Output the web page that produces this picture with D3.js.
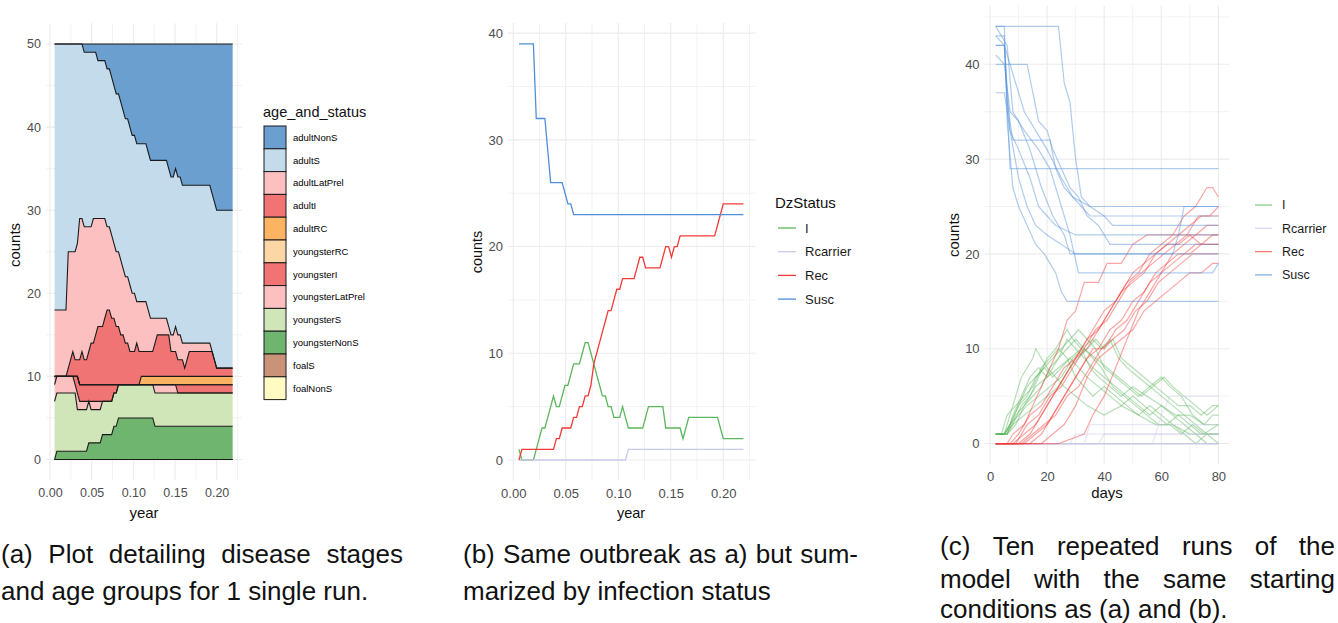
<!DOCTYPE html>
<html>
<head>
<meta charset="utf-8">
<script src="https://cdnjs.cloudflare.com/ajax/libs/d3/7.8.5/d3.min.js"></script>
<style>
  body { margin: 0; background: #fff; }
  text { font-family: "Liberation Sans", Arial, sans-serif; }
  .tick text { fill: #4d4d4d; }
  .caption { font-family: "Liberation Sans", sans-serif; fill: #111; }
</style>
</head>
<body>
<script>
// ---------- (a) one run, counts per day by age group and status ----------
var firstDay = 2;   // days 2..80 of the run

var adultNonS = [0,0,0,0,0,0,0,0,0,0, 0,0,0,1,1,1,1,1,1,2, 2,2,2,3,3,4,5,6,6,7,
  8,9,9,10,11,11,12,12,12,12, 12,13,14,14,14,14,14,14,14,14, 15,16,16,15,16,16,17,17,17,17,
  17,17,17,17,17,17,17,17,17,18, 19,20,20,20,20,20,20,20,20];
var adultS = [32,32,32,32,32,32,25,25,25,25, 24,21,21,21,21,21,21,20,20,19, 19,19,19,19,19,19,19,19,19,19,
  19,19,19,19,19,19,19,19,19,19, 19,19,19,19,19,19,19,19,19,19, 19,19,19,19,19,19,19,19,19,19,
  19,19,19,19,19,19,19,19,19,19, 19,19,19,19,19,19,19,19,19];
var adultLatPrel = [8,8,8,8,8,8,14,13,12,13, 14,17,16,16,16,15,14,15,14,13, 13,13,12,10,10,10,9,9,9,9,
  8,8,8,8,7,7,5,6,6,6, 6,5,4,4,3,2,2,2,2,2, 1,2,2,3,3,3,2,3,2,1,
  1,1,1,1,1,1,1,1,1,0, 0,0,0,0,0,0,0,0,0];
var adultI = [0,0,0,0,0,0,1,2,3,2, 2,3,4,3,3,4,5,5,6,7, 7,7,8,9,9,8,8,7,7,6,
  6,5,5,4,4,4,5,4,3,3, 3,3,3,3,4,5,5,5,5,5, 5,3,3,3,2,2,2,1,2,3,
  3,3,3,3,3,3,3,3,3,3, 2,1,1,1,1,1,1,1,1];
var adultRC = [0,0,0,0,0,0,0,0,0,0, 0,0,0,0,0,0,0,0,0,0, 0,0,0,0,0,0,0,0,0,0,
  0,0,0,0,0,0,0,0,1,1, 1,1,1,1,1,1,1,1,1,1, 1,1,1,1,1,1,1,1,1,1,
  1,1,1,1,1,1,1,1,1,1, 1,1,1,1,1,1,1,1,1];
var youngsterRC = [0,0,0,0,0,0,0,0,0,0, 0,0,0,0,0,0,0,0,0,0, 0,0,0,0,0,0,0,0,0,0,
  0,0,0,0,0,0,0,0,0,0, 0,0,0,0,0,0,0,0,0,0, 0,0,0,0,0,0,0,0,0,0,
  0,0,0,0,0,0,0,0,0,0, 0,0,0,0,0,0,0,0,0];
var youngsterI = [1,0,0,0,0,0,0,0,0,1, 2,2,2,2,2,2,2,2,2,2, 2,2,2,2,2,2,1,1,0,0,
  0,0,0,0,0,0,0,0,0,0, 0,0,0,0,0,0,0,0,0,0, 0,0,0,0,1,1,1,1,1,1,
  1,1,1,1,1,1,1,1,1,1, 1,1,1,1,1,1,1,1,1];
var youngsterLatPrel = [2,2,2,2,2,2,2,2,2,1, 2,1,1,1,1,0,1,1,1,1, 1,0,0,0,0,0,0,0,0,0,
  0,0,0,0,0,0,0,0,0,0, 0,0,0,0,1,1,1,1,1,1, 1,1,1,1,0,0,0,0,0,0,
  0,0,0,0,0,0,0,0,0,0, 0,0,0,0,0,0,0,0,0];
var youngsterS = [7,7,7,7,7,7,7,7,7,7, 5,5,5,5,5,5,4,4,4,4, 4,4,4,4,4,4,4,4,4,4,
  4,4,4,4,4,4,4,4,4,4, 4,4,4,4,4,4,4,4,4,4, 4,4,4,4,4,4,4,4,4,4,
  4,4,4,4,4,4,4,4,4,4, 4,4,4,4,4,4,4,4,4];
var youngsterNonS = [0,1,1,1,1,1,1,1,1,1, 1,1,1,1,1,2,2,2,2,2, 2,3,3,3,3,3,4,4,5,5,
  5,5,5,5,5,5,5,5,5,5, 5,5,5,5,4,4,4,4,4,4, 4,4,4,4,4,4,4,4,4,4,
  4,4,4,4,4,4,4,4,4,4, 4,4,4,4,4,4,4,4,4];
var foalS = [0,0,0,0,0,0,0,0,0,0, 0,0,0,0,0,0,0,0,0,0, 0,0,0,0,0,0,0,0,0,0,
  0,0,0,0,0,0,0,0,0,0, 0,0,0,0,0,0,0,0,0,0, 0,0,0,0,0,0,0,0,0,0,
  0,0,0,0,0,0,0,0,0,0, 0,0,0,0,0,0,0,0,0];
var foalNonS = [0,0,0,0,0,0,0,0,0,0, 0,0,0,0,0,0,0,0,0,0, 0,0,0,0,0,0,0,0,0,0,
  0,0,0,0,0,0,0,0,0,0, 0,0,0,0,0,0,0,0,0,0, 0,0,0,0,0,0,0,0,0,0,
  0,0,0,0,0,0,0,0,0,0, 0,0,0,0,0,0,0,0,0];

// legend order (top of stack first)
var groupNames = ["adultNonS", "adultS", "adultLatPrel", "adultI", "adultRC", "youngsterRC",
  "youngsterI", "youngsterLatPrel", "youngsterS", "youngsterNonS", "foalS", "foalNonS"];
var groupColors = ["#6a9fcf", "#c4dbeb", "#fcc0c0", "#f07473", "#fdb462", "#fdd6a6",
  "#f07473", "#fcc0c0", "#d0e6b9", "#6fb56f", "#c9937a", "#fffbc2"];

// ---------- (c) ten runs, breakpoints [day, count] ----------
var runsI = [
  [[2,1],[5,1],[7,3],[9,5],[11,7],[13,8],[15,9],[16,10],[18,9],[20,8],[23,7],[26,6],[30,5],[34,4],[40,3],[46,4],[52,3],[58,2],[64,2],[70,1],[80,1]],
  [[2,1],[6,1],[8,2],[11,4],[14,5],[17,7],[20,9],[23,10],[25,11],[27,12],[29,11],[32,10],[35,8],[38,7],[42,6],[46,5],[50,6],[55,5],[60,4],[65,3],[70,3],[75,2],[80,2]],
  [[2,1],[5,1],[7,2],[10,4],[13,5],[16,7],[19,8],[22,9],[25,10],[28,11],[31,12],[34,11],[37,10],[40,8],[44,7],[48,6],[52,5],[56,6],[60,5],[64,4],[68,3],[72,2],[76,1],[80,1]],
  [[2,1],[6,1],[9,3],[12,4],[16,6],[20,7],[24,8],[28,9],[32,10],[36,11],[39,10],[42,11],[45,9],[48,8],[52,7],[56,6],[60,7],[63,6],[67,5],[71,3],[75,2],[78,3],[80,3]],
  [[2,1],[4,1],[6,3],[9,4],[12,5],[15,6],[18,8],[21,9],[24,10],[27,9],[30,7],[33,6],[36,5],[40,6],[44,5],[48,4],[52,3],[56,4],[60,3],[64,2],[68,1],[72,0],[76,1],[80,0]],
  [[2,1],[5,1],[8,2],[12,3],[16,4],[20,5],[24,6],[28,8],[31,9],[34,10],[37,11],[40,10],[43,11],[46,9],[50,8],[54,7],[58,6],[62,5],[66,4],[70,4],[74,3],[78,4],[80,4]],
  [[2,1],[6,1],[8,3],[11,5],[14,7],[17,8],[20,7],[24,9],[27,11],[30,10],[33,9],[36,8],[40,7],[44,6],[48,5],[52,4],[56,3],[60,4],[64,3],[68,2],[72,1],[76,0],[80,0]],
  [[2,1],[5,1],[7,2],[10,3],[13,4],[17,5],[21,6],[25,7],[29,9],[33,10],[37,9],[41,8],[45,7],[49,6],[53,5],[57,6],[61,7],[64,6],[68,5],[72,4],[76,3],[80,4]],
  [[2,1],[6,1],[9,2],[12,4],[15,5],[18,6],[21,8],[24,9],[27,10],[30,11],[33,10],[36,9],[39,8],[43,6],[47,5],[51,4],[55,3],[59,2],[63,2],[67,1],[71,2],[75,1],[80,2]],
  [[2,1],[5,1],[7,2],[10,4],[13,6],[16,7],[19,8],[22,7],[25,8],[28,9],[31,8],[34,7],[38,6],[42,5],[46,4],[50,5],[54,4],[58,3],[62,2],[66,3],[70,2],[74,1],[78,1],[80,1]]
];
var runsRcarrier = [
  [[2,0],[80,0]],
  [[2,0],[33,0],[35,2],[80,2]],
  [[2,0],[28,0],[30,1],[80,1]],
  [[2,0],[57,0],[60,3],[63,5],[80,5]],
  [[2,0],[38,0],[40,1],[80,1]],
  [[2,0],[80,0]],
  [[2,0],[80,0]],
  [[2,0],[80,0]],
  [[2,0],[80,0]],
  [[2,0],[80,0]]
];
var runsRec = [
  [[2,0],[6,0],[8,1],[12,2],[15,4],[18,6],[21,8],[24,10],[27,13],[30,14],[33,17],[38,17],[41,19],[46,19],[50,21],[55,22],[80,22]],
  [[2,0],[8,0],[12,1],[16,2],[20,4],[24,6],[28,8],[32,10],[36,12],[40,14],[44,15],[48,17],[52,18],[56,20],[60,21],[64,22],[68,24],[72,25],[76,27],[78,27],[80,26]],
  [[2,0],[10,0],[14,1],[18,3],[22,5],[26,7],[30,9],[34,11],[38,12],[42,14],[46,16],[50,18],[54,19],[58,20],[62,21],[66,22],[70,23],[74,24],[80,24]],
  [[2,0],[12,0],[16,1],[20,2],[24,4],[28,6],[32,8],[36,10],[40,10],[44,12],[48,13],[52,15],[56,17],[60,18],[64,20],[68,21],[72,22],[76,23],[80,23]],
  [[2,0],[7,0],[10,1],[14,3],[18,4],[22,6],[26,8],[30,9],[34,10],[38,12],[42,14],[46,16],[50,17],[54,18],[58,20],[62,21],[66,21],[70,22],[74,21],[80,21]],
  [[2,0],[14,0],[18,1],[22,3],[26,5],[30,7],[34,9],[38,10],[42,12],[46,13],[50,15],[54,16],[58,18],[62,19],[66,20],[70,20],[74,21],[78,22],[80,22]],
  [[2,0],[18,0],[22,1],[26,2],[30,4],[34,7],[38,9],[42,10],[46,11],[50,12],[54,14],[58,15],[62,16],[66,17],[70,18],[74,18],[78,19],[80,19]],
  [[2,0],[9,0],[13,2],[17,3],[21,5],[25,6],[29,8],[33,10],[37,12],[41,13],[45,15],[49,17],[53,18],[57,19],[61,20],[65,21],[69,22],[73,24],[77,24],[80,25]],
  [[2,0],[11,0],[15,1],[19,2],[23,3],[27,5],[31,6],[35,8],[39,10],[43,11],[47,12],[51,14],[55,15],[59,17],[63,18],[67,19],[71,20],[75,20],[80,20]],
  [[2,0],[24,0],[33,1],[36,3],[40,5],[44,8],[48,11],[52,14],[56,16],[60,18],[64,19],[68,20],[72,21],[76,21],[80,21]]
];
var runsSusc = [
  [[2,44],[24,44],[26,38],[28,36],[30,30],[32,26],[35,25],[80,25]],
  [[2,41],[5,40],[13,40],[15,37],[17,34],[20,33],[22,31],[25,29],[28,27],[31,26],[34,24],[38,23],[42,21],[80,21]],
  [[2,42],[5,42],[6,36],[7,29],[80,29]],
  [[2,43],[5,43],[6,36],[8,32],[21,32],[23,29],[26,27],[29,26],[32,25],[35,24],[80,24]],
  [[2,44],[5,44],[6,34],[8,27],[10,25],[13,23],[16,21],[19,20],[21,19],[23,18],[25,16],[27,15],[80,15]],
  [[2,40],[5,40],[7,35],[10,34],[14,31],[18,27],[22,24],[26,22],[28,20],[80,20]],
  [[2,44],[6,42],[8,35],[12,33],[17,31],[21,29],[24,26],[28,22],[31,18],[78,18],[80,19]],
  [[2,37],[5,37],[7,33],[10,31],[14,28],[17,25],[20,24],[23,23],[30,22],[80,22]],
  [[2,43],[5,42],[8,39],[12,35],[16,33],[20,31],[25,28],[29,26],[35,25],[40,24],[43,23],[80,23]],
  [[2,42],[5,42],[7,33],[10,28],[13,25],[16,23],[20,22],[25,21],[30,20],[64,20],[66,22],[68,25],[80,25]]
];

var statusNames = ["I", "Rcarrier", "Rec", "Susc"];
var statusColors = ["#5cb65c", "#c9c9e9", "#f43a36", "#4f8fd6"];

// ---------- setup ----------
var svg = d3.select("body")
  .append("svg")
  .attr("width", 1338)
  .attr("height", 623);

function drawGrid(g, x, y) {
  var xt = x.ticks(5), yt = y.ticks(5);
  var xs = xt[1] - xt[0], ys = yt[1] - yt[0];
  var xd = x.domain(), yd = y.domain();
  var inX = function (v) { return v >= xd[0] && v <= xd[1]; };
  var inY = function (v) { return v >= yd[0] && v <= yd[1]; };
  var xm = [xt[0] - xs / 2].concat(xt.map(function (v) { return v + xs / 2; })).filter(inX);
  var ym = [yt[0] - ys / 2].concat(yt.map(function (v) { return v + ys / 2; })).filter(inY);
  var x0 = x.range()[0], x1 = x.range()[1], y0 = y.range()[0], y1 = y.range()[1];

  [[xm, 0.6], [xt, 1.1]].forEach(function (p) {
    g.selectAll(null).data(p[0]).enter().append("line")
      .attr("x1", d => x(d)).attr("x2", d => x(d))
      .attr("y1", y0).attr("y2", y1)
      .attr("stroke", "#ebebeb").attr("stroke-width", p[1]);
  });
  [[ym, 0.6], [yt, 1.1]].forEach(function (p) {
    g.selectAll(null).data(p[0]).enter().append("line")
      .attr("y1", d => y(d)).attr("y2", d => y(d))
      .attr("x1", x0).attr("x2", x1)
      .attr("stroke", "#ebebeb").attr("stroke-width", p[1]);
  });
}

function drawAxes(g, x, y, fmt, fs, padX) {
  g.append("g")
    .attr("transform", `translate(0, ${y.range()[0]})`)
    .call(d3.axisBottom(x).ticks(5).tickFormat(fmt).tickSize(0).tickPadding(padX))
    .call(a => a.select(".domain").remove())
    .selectAll("text").style("font-size", fs + "px");
  g.append("g")
    .attr("transform", `translate(${x.range()[0]}, 0)`)
    .call(d3.axisLeft(y).ticks(5).tickSize(0).tickPadding(5))
    .call(a => a.select(".domain").remove())
    .selectAll("text").style("font-size", fs + "px");
}

function axisTitles(g, xLabel, xPos, yPos, cx, cy, fs) {
  g.append("text")
    .attr("x", xPos).attr("y", yPos)
    .attr("text-anchor", "middle")
    .style("font-size", fs + "px").style("fill", "#111")
    .text(xLabel);
  g.append("text")
    .attr("transform", `translate(${cx}, ${cy}) rotate(-90)`)
    .attr("text-anchor", "middle")
    .style("font-size", fs + "px").style("fill", "#111")
    .text("counts");
}

// ---------- panel (a) ----------
var seriesA = {
  adultNonS: adultNonS, adultS: adultS, adultLatPrel: adultLatPrel, adultI: adultI,
  adultRC: adultRC, youngsterRC: youngsterRC, youngsterI: youngsterI,
  youngsterLatPrel: youngsterLatPrel, youngsterS: youngsterS, youngsterNonS: youngsterNonS,
  foalS: foalS, foalNonS: foalNonS
};
var rowsA = adultS.map(function (v, i) {
  var row = { day: firstDay + i };
  groupNames.forEach(function (k) { row[k] = seriesA[k][i]; });
  return row;
});
var colorA = d3.scaleOrdinal().domain(groupNames).range(groupColors);

var xA = d3.scaleLinear().domain([-0.0048, 0.2304]).range([46, 242]);
var yA = d3.scaleLinear().domain([-2.5, 52.5]).range([480.3, 23.2]);

var gA = svg.append("g");
drawGrid(gA, xA, yA);

var stackA = d3.stack().keys(groupNames.slice().reverse())(rowsA);

var areaA = d3.area()
  .x(d => xA(d.data.day / 365))
  .y0(d => yA(d[0]))
  .y1(d => yA(d[1]));
var topA = d3.line()
  .x(d => xA(d.data.day / 365))
  .y(d => yA(d[1]));

gA.selectAll(".layer")
  .data(stackA)
  .enter()
  .append("path")
  .attr("d", areaA)
  .attr("fill", d => colorA(d.key));

gA.selectAll(".edge")
  .data(stackA)
  .enter()
  .append("path")
  .attr("d", topA)
  .attr("fill", "none")
  .attr("stroke", "#1a1a1a")
  .attr("stroke-width", 1.1);

drawAxes(gA, xA, yA, d3.format(".2f"), 12.5, 8);
axisTitles(gA, "year", 144, 518, 20, 245, 15);

// legend (a)
var legA = svg.append("g").attr("transform", "translate(264, 0)");
legA.append("text")
  .attr("x", -1).attr("y", 117)
  .style("font-size", "14.5px").style("fill", "#111")
  .text("age_and_status");
legA.selectAll("rect")
  .data(groupNames)
  .enter()
  .append("rect")
  .attr("x", 0)
  .attr("y", (d, i) => 126 + i * 22.8)
  .attr("width", 22)
  .attr("height", 22.8)
  .attr("fill", d => colorA(d))
  .attr("stroke", "#1a1a1a")
  .attr("stroke-width", 1);
legA.selectAll(".lab")
  .data(groupNames)
  .enter()
  .append("text")
  .attr("x", 29)
  .attr("y", (d, i) => 126 + i * 22.8 + 11.4)
  .attr("dy", "0.35em")
  .style("font-size", "9.5px").style("fill", "#000")
  .text(d => d);

// ---------- panel (b): same run, summarised by status ----------
var rowsB = rowsA.map(function (r) {
  return {
    day: r.day,
    I: r.adultI + r.youngsterI,
    Rcarrier: r.adultRC + r.youngsterRC,
    Rec: r.adultNonS + r.youngsterNonS + r.foalNonS,
    Susc: r.adultS + r.youngsterS + r.foalS
  };
});
var colorS = d3.scaleOrdinal().domain(statusNames).range(statusColors);

var xB = d3.scaleLinear().domain([-0.005, 0.2307]).range([508, 755.5]);
var yB = d3.scaleLinear().domain([-1.95, 40.95]).range([480.8, 23]);

var gB = svg.append("g");
drawGrid(gB, xB, yB);

statusNames.forEach(function (s) {
  gB.append("path")
    .datum(rowsB)
    .attr("d", d3.line().x(d => xB(d.day / 365)).y(d => yB(d[s])))
    .attr("fill", "none")
    .attr("stroke", colorS(s))
    .attr("stroke-width", 1.3);
});

drawAxes(gB, xB, yB, d3.format(".2f"), 13, 7.5);
axisTitles(gB, "year", 631, 518, 482, 252, 14.5);

var legB = svg.append("g").attr("transform", "translate(775, 0)");
legB.append("text")
  .attr("x", 0).attr("y", 208)
  .style("font-size", "15px").style("fill", "#111")
  .text("DzStatus");
legB.selectAll("line")
  .data(statusNames)
  .enter()
  .append("line")
  .attr("x1", 3).attr("x2", 21)
  .attr("y1", (d, i) => 228 + i * 23.7)
  .attr("y2", (d, i) => 228 + i * 23.7)
  .attr("stroke", d => colorS(d))
  .attr("stroke-width", 1.3);
legB.selectAll(".lab")
  .data(statusNames)
  .enter()
  .append("text")
  .attr("x", 30)
  .attr("y", (d, i) => 228 + i * 23.7)
  .attr("dy", "0.35em")
  .style("font-size", "13px").style("fill", "#1a1a1a")
  .text(d => d);

// ---------- panel (c): ten runs ----------
var xC = d3.scaleLinear().domain([-1.9, 83.9]).range([984.6, 1229.5]);
var yC = d3.scaleLinear().domain([-2.2, 46.2]).range([464.4, 5.5]);

var gC = svg.append("g");
drawGrid(gC, xC, yC);

var lineC = d3.line().x(p => xC(p[0])).y(p => yC(p[1]));
var runsByStatus = { I: runsI, Rcarrier: runsRcarrier, Rec: runsRec, Susc: runsSusc };

statusNames.forEach(function (s) {
  gC.selectAll(null)
    .data(runsByStatus[s])
    .enter()
    .append("path")
    .attr("d", lineC)
    .attr("fill", "none")
    .attr("stroke", colorS(s))
    .attr("stroke-opacity", 0.45)
    .attr("stroke-width", 1.2);
});

drawAxes(gC, xC, yC, d3.format("d"), 13, 7.5);
axisTitles(gC, "days", 1107, 498, 959, 235, 15);

var legC = svg.append("g").attr("transform", "translate(1252, 0)");
legC.selectAll("line")
  .data(statusNames)
  .enter()
  .append("line")
  .attr("x1", 3).attr("x2", 20)
  .attr("y1", (d, i) => 205 + i * 23.3)
  .attr("y2", (d, i) => 205 + i * 23.3)
  .attr("stroke", d => colorS(d))
  .attr("stroke-opacity", 0.7)
  .attr("stroke-width", 1.3);
legC.selectAll(".lab")
  .data(statusNames)
  .enter()
  .append("text")
  .attr("x", 30)
  .attr("y", (d, i) => 205 + i * 23.3)
  .attr("dy", "0.35em")
  .style("font-size", "12.5px").style("fill", "#1a1a1a")
  .text(d => d);

// ---------- captions (justified lines spread word gaps) ----------
var captions = [
  { x: 1, y: 563, w: 402, just: true, t: "(a) Plot detailing disease stages" },
  { x: 1, y: 600, w: 0, just: false, t: "and age groups for 1 single run." },
  { x: 463, y: 563, w: 395, just: true, t: "(b) Same outbreak as a) but sum-" },
  { x: 463, y: 600, w: 0, just: false, t: "marized by infection status" },
  { x: 940, y: 555, w: 395, just: true, t: "(c) Ten repeated runs of the" },
  { x: 940, y: 588, w: 395, just: true, t: "model with the same starting" },
  { x: 940, y: 618, w: 0, just: false, t: "conditions as (a) and (b)." }
];
captions.forEach(function (c) {
  var t = svg.append("text")
    .attr("class", "caption")
    .attr("y", c.y)
    .style("font-size", "26px");
  if (!c.just) {
    t.attr("x", c.x).text(c.t);
    return;
  }
  var words = c.t.split(" ");
  var spans = words.map(w => t.append("tspan").text(w));
  var widths = spans.map(s => s.node().getComputedTextLength());
  var gap = (c.w - d3.sum(widths)) / (words.length - 1);
  var x = c.x;
  spans.forEach(function (s, i) {
    s.attr("x", x);
    x += widths[i] + gap;
  });
});
</script>
</body>
</html>
